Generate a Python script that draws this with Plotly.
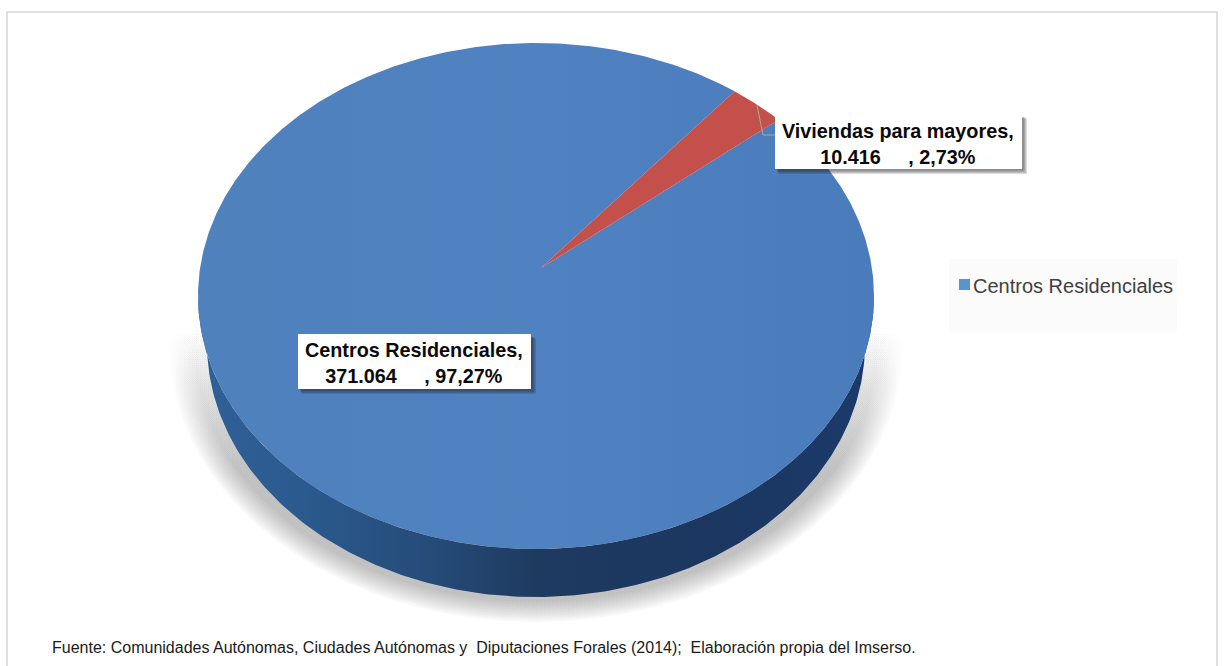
import numpy as np
import plotly.graph_objects as go

categories = ["Centros Residenciales", "Viviendas para mayores"]
values = [371064, 10416]
value_labels = ["371.064", "10.416"]
percent_labels = ["97,27%", "2,73%"]
legend_labels = ["Centros Residenciales"]
source_note = "Fuente: Comunidades Autónomas, Ciudades Autónomas y  Diputaciones Forales (2014);  Elaboración propia del Imserso."

W, H = 1224, 666
CX, CY, RX, RY = 536, 296, 338, 253
BOTTOM_CY, BOTTOM_RX = 344, 329
APEX = (541, 268)
START_DEG = 54.0  # rim angle where the small slice begins, going clockwise

def ux(px):
    return (px - CX) / RX
def uy(py):
    return (CY - py) / RY
def fx(px):
    return px / W
def fy(py):
    return 1 - py / H

total = sum(values)
small_sweep = values[1] / total * 360
big_sweep = values[0] / total * 360

fig = go.Figure()

# soft shadow under the disc
for i in range(11):
    t = np.radians(np.linspace(0, 360, 361))
    rx = (343 + 2.4 * i) / RX
    ry = (258 + 2.0 * i) / RY
    fig.add_trace(go.Scatter(
        x=rx * np.cos(t), y=uy(BOTTOM_CY) + ry * np.sin(t),
        mode="lines", line=dict(width=0), fill="toself",
        fillgradient=dict(type="vertical", start=uy(300), stop=uy(470),
                          colorscale=[[0, "rgba(70,70,70,0)"], [0.2, "rgba(70,70,70,0.002)"],
                                      [0.5, "rgba(70,70,70,0.016)"], [1, "rgba(70,70,70,0.036)"]]),
        hoverinfo="skip", showlegend=False))

# wall of the disc
t = np.radians(np.linspace(180, 360, 241))
wall_x = np.concatenate([np.cos(t), BOTTOM_RX / RX * np.cos(t[::-1])])
wall_y = np.concatenate([np.sin(t), uy(BOTTOM_CY) + np.sin(t[::-1])])
fig.add_trace(go.Scatter(
    x=wall_x, y=wall_y, mode="lines", line=dict(width=0), fill="toself",
    fillgradient=dict(type="horizontal", colorscale=[
        [0, "#2f6098"], [0.15, "#2b5a8e"], [0.35, "#254b78"], [0.5, "#1f3a5f"], [0.75, "#1b3761"], [1, "#1b3a6a"]]),
    hoverinfo="skip", showlegend=False))

# top face: slices from the values
a0 = START_DEG
a1 = a0 - small_sweep
ang_big = np.radians(np.linspace(a1, a1 - big_sweep, 721))
ang_small = np.radians(np.linspace(a0, a1, 41))
ax, ay = ux(APEX[0]), uy(APEX[1])
fig.add_trace(go.Scatter(
    x=np.concatenate([[ax], np.cos(ang_big), [ax]]),
    y=np.concatenate([[ay], np.sin(ang_big), [ay]]),
    mode="lines", line=dict(width=0), fill="toself",
    fillgradient=dict(type="horizontal", colorscale=[[0, "#4f81bd"], [0.5, "#5082c1"], [1, "#4a7cbb"]]),
    name=categories[0], hoverinfo="name", showlegend=False))
fig.add_trace(go.Scatter(
    x=np.concatenate([[ax], np.cos(ang_small), [ax]]),
    y=np.concatenate([[ay], np.sin(ang_small), [ay]]),
    mode="lines", line=dict(width=0), fill="toself", fillcolor="#c4504c",
    name=categories[1], hoverinfo="name", showlegend=False))

# leader line
fig.add_trace(go.Scatter(
    x=[ux(757), ux(763), ux(775)], y=[uy(105), uy(135), uy(135)],
    mode="lines", line=dict(color="#a8a89a", width=1), hoverinfo="skip", showlegend=False))

# legend entry: the swatch sits closer to the text than the legend allows, so it is drawn as a shape
fig.add_trace(go.Scatter(
    x=[None], y=[None], mode="markers", name=legend_labels[0],
    marker=dict(symbol="square", size=11, color="rgba(0,0,0,0)")))

shapes = []
def px_rect(x0, y0, x1, y1, **kw):
    shapes.append(dict(type="rect", xref="paper", yref="paper",
                       x0=fx(x0), x1=fx(x1), y0=fy(y1), y1=fy(y0), **kw))

px_rect(7, 12, 1217, 680, line=dict(color="#d6d6d6", width=1.5), fillcolor="rgba(0,0,0,0)", layer="below")
px_rect(949, 259, 1177, 332, line=dict(width=0), fillcolor="#fbfbfb", layer="below")
px_rect(959, 279, 970, 290, line=dict(width=0), fillcolor="#5b93cb", layer="above")

boxes = [(775, 114, 1022, 169), (298, 334, 531, 389)]
for x0, y0, x1, y1 in boxes:
    for k in range(5, 0, -1):
        px_rect(x0 + 1 + k * 0.5, y0 + 2 + k * 0.5, x1 + 1 + k * 0.8, y1 + 1 + k * 0.8,
                line=dict(width=0), fillcolor="rgba(30,30,40,0.13)", layer="above")
    px_rect(x0, y0, x1, y1, line=dict(width=0), fillcolor="#ffffff", layer="above")

def label(i, x, y):
    return dict(
        text=f"{categories[i]},<br>{value_labels[i]}     , {percent_labels[i]}".replace("     ", "\u00a0\u00a0\u00a0\u00a0\u00a0"),
        x=fx(x), y=fy(y), xref="paper", yref="paper", xanchor="center", yanchor="middle",
        showarrow=False, align="center",
        font=dict(family="Liberation Sans", size=19.8, color="#0a0a0a", weight="bold"))

annotations = [
    label(1, 898, 143.5),
    label(0, 414, 362.5),
    dict(text=source_note, x=fx(50), y=fy(647), xref="paper", yref="paper",
         xanchor="left", yanchor="middle", showarrow=False,
         font=dict(family="Liberation Sans", size=16, color="#1a1a1a")),
]

fig.update_layout(
    width=W, height=H, autosize=False,
    margin=dict(l=0, r=0, t=0, b=0),
    paper_bgcolor="white", plot_bgcolor="white",
    xaxis=dict(range=[ux(0), ux(W)], visible=False, fixedrange=True),
    yaxis=dict(range=[uy(H), uy(0)], visible=False, fixedrange=True),
    shapes=shapes, annotations=annotations,
    legend=dict(x=fx(933), y=fy(266), xanchor="left", yanchor="top",
                bgcolor="rgba(0,0,0,0)", itemwidth=30,
                font=dict(family="Liberation Sans", size=20, color="#404040")),
    showlegend=True,
)

fig.write_html("out.html", config={"displayModeBar": False},
               post_script="document.body.style.margin='0';document.documentElement.style.overflow='hidden';")
